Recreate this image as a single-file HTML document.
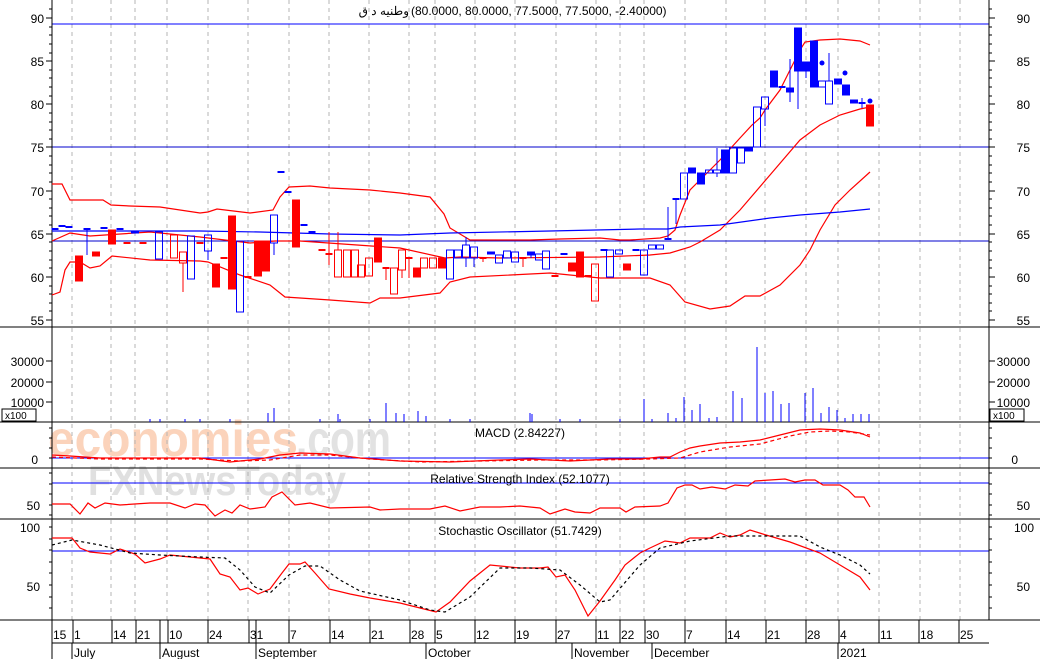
<!DOCTYPE html>
<html><head><meta charset="utf-8"><style>
html,body{margin:0;padding:0;background:#fff;}
svg{display:block;font-family:"Liberation Sans","Noto Sans CJK SC",sans-serif;}
line,rect{shape-rendering:crispEdges;}
</style></head><body>
<svg id="s" width="1040" height="659" viewBox="0 0 1040 659" xmlns="http://www.w3.org/2000/svg">
<rect width="1040" height="659" fill="#fff"/>
<g id="wm" font-weight="bold">
<text x="48" y="456" font-size="50" fill="#fbd3bb" textLength="250" lengthAdjust="spacingAndGlyphs">economies</text>
<text x="296" y="456" font-size="50" fill="#e2e2e2" textLength="95" lengthAdjust="spacingAndGlyphs">.com</text>
<text x="88" y="495" font-size="42" fill="#e0e0e0" textLength="258" lengthAdjust="spacingAndGlyphs">FXNewsToday</text>
</g>
<g id="g"></g>
<text x="409" y="15" font-size="12" text-anchor="end" fill="#000">وطنيه د ق</text>
<text x="411" y="15" font-size="12" fill="#000" direction="ltr">(80.0000, 80.0000, 77.5000, 77.5000, -2.40000)</text>
<text x="520" y="437" font-size="12" text-anchor="middle">MACD (2.84227)</text>
<text x="520" y="483" font-size="12" text-anchor="middle">Relative Strength Index (52.1077)</text>
<text x="520" y="535" font-size="12" text-anchor="middle">Stochastic Oscillator (51.7429)</text>
</svg>
<script>
var g=document.getElementById('g'),h='';
function L(x1,y1,x2,y2,c,w,d){h+='<line x1="'+x1+'" y1="'+y1+'" x2="'+x2+'" y2="'+y2+'" stroke="'+c+'" stroke-width="'+(w||1)+'"'+(d?' stroke-dasharray="'+d+'"':'')+'/>';}
function P(a,c,d){var s='';for(var i=0;i<a.length;i+=2)s+=(i?'L':'M')+a[i]+' '+a[i+1];h+='<path d="'+s+'" fill="none" stroke="'+c+'" stroke-width="1.2"'+(d?' stroke-dasharray="'+d+'"':'')+'/>';}
function T(x,y,t,a){h+='<text x="'+x+'" y="'+y+'" font-size="12" text-anchor="'+(a||'start')+'">'+t+'</text>';}
var X0=52,X1=989;
var grid=[72,111,135,167,208,248,289,329,369,409,435,475,515,556,596,620,644,685,726,765,806,838,879,920,960];
grid.forEach(function(x){L(x,0,x,620,'#b4b4b4',1,'4 4');});
L(X0,24,X1,24,'#0000ff');L(X0,147,X1,147,'#0000cc');L(X0,241,X1,241,'#0000cc');L(X0,327,X1,327,'#0000ff');
L(X0,458,X1,458,'#0000ff');L(X0,483,X1,483,'#0000ff');L(X0,551,X1,551,'#0000ff');L(X0,620,X1,620,'#0000ff');
L(0,327,1040,327,'#000');L(0,422,1040,422,'#000');L(0,468,1040,468,'#000');L(0,519,1040,519,'#000');L(0,620,1040,620,'#000');
L(X0,0,X0,659,'#000');L(X1,0,X1,620,'#000');
for(var p=55;p<=91;p++){var y=Math.round(18+(90-p)*8.63);var big=p%5==0;L(X0-(big?6:3),y,X0,y,'#000');L(X1,y,X1+(big?6:3),y,'#000');if(big&&p<=90){T(44,y+5,p,'end');T(1030,y+5,p,'end');}}
[[361,'30000'],[382,'20000'],[402,'10000']].forEach(function(v){T(44,v[0]+5,v[1],'end');T(1030,v[0]+5,v[1],'end');L(X0-6,v[0],X0,v[0],'#000');L(X1,v[0],X1+6,v[0],'#000');});
h+='<rect x="2" y="409" width="34" height="12" fill="#fff" stroke="#000"/><text x="5" y="419" font-size="10">x100</text>';
h+='<rect x="990" y="409" width="34" height="12" fill="#fff" stroke="#000"/><text x="993" y="419" font-size="10">x100</text>';
T(38,464,'0','end');T(1018,464,'0','end');T(40,510,'50','end');T(1030,510,'50','end');
T(40,532,'100','end');T(1034,532,'100','end');T(40,591,'50','end');T(1030,591,'50','end');
for(var y=428;y<468;y+=10){L(X0-3,y,X0,y,'#000');L(X1,y,X1+3,y,'#000');}
for(var y=473;y<519;y+=10.5){var yy=Math.round(y);L(X0-3,yy,X0,yy,'#000');L(X1,yy,X1+3,yy,'#000');}
for(var y=527;y<620;y+=11.6){var yy=Math.round(y);L(X0-3,yy,X0,yy,'#000');L(X1,yy,X1+3,yy,'#000');}
L(X0,643,989,643,'#000');
var dl=[[52,'15'],[73,'1'],[112,'14'],[136,'21'],[168,'10'],[208,'24'],[249,'31'],[289,'7'],[330,'14'],[370,'21'],[410,'28'],[435,'5'],[475,'12'],[515,'19'],[556,'27'],[596,'11'],[620,'22'],[645,'30'],[685,'7'],[726,'14'],[766,'21'],[806,'28'],[839,'4'],[879,'11'],[919,'18'],[959,'25']];
dl.forEach(function(d){L(d[0],620,d[0],643,'#000');T(d[0]+1,639,d[1]);});
L(160,620,160,643,'#000');L(256,620,256,643,'#000');
[[72,'July'],[160,'August'],[256,'September'],[426,'October'],[572,'November'],[652,'December'],[838,'2021']].forEach(function(m){L(m[0],643,m[0],659,'#000');T(m[0]+2,657,m[1]);});
P([52,184,62,184,70,200,90,200,103,200,111,205,130,206,160,207,200,213,208,212,217,209,250,213,273,210,280,197,289,187,310,186,330,188,370,190,400,193,430,197,444,214,450,228,460,234,470,240,495,240,530,240,560,239,600,238,620,240,630,240,660,238,668,236,675,230,680,215,690,190,700,180,720,160,740,138,752,125,760,118,765,110,780,90,790,70,800,50,805,42,820,40,840,39,860,41,870,45],'#f00');
P([52,241,70,233,90,236,150,232,200,237,250,243,275,241,300,241,400,248,445,258,460,257,500,258,600,257,650,255,670,253,690,247,700,242,720,230,740,210,770,175,800,140,820,125,840,115,860,109,870,107],'#f00');
P([52,295,60,292,65,270,70,262,80,262,90,268,100,266,112,256,150,260,200,261,208,262,240,275,270,285,285,297,300,298,330,300,370,303,380,298,400,298,440,293,450,282,470,277,550,273,600,278,650,278,670,285,685,302,710,309,730,306,745,296,760,296,780,285,800,265,810,250,820,230,835,205,850,190,870,172],'#f00');
P([52,231,200,231,260,232,330,234,400,235,450,233,550,231,640,229,668,229,680,227,720,225,770,218,800,215,840,212,870,209],'#00f');
var R='#f00',B='#00f';
var c=[[55,229,229,0,0,B,1],[62,226,226,0,0,B,1],[69,227,227,0,0,B,1],[79,256,281,0,0,R,1],[87,229,230,229,255,B,1],[96,252,256,0,0,R,1],[104,228,228,0,0,B,1],[112,230,244,0,0,R,1],[120,229,229,0,0,B,1],[127,243,243,0,0,R,1],[135,231,233,0,0,B,1],[143,243,243,0,0,R,1],[159,232,259,0,0,B,0],[174,235,258,0,0,R,0],[183,252,263,0,292,R,0],[191,236,279,0,0,B,0],[200,243,243,0,0,R,1],[208,235,251,0,260,B,0],[216,264,287,0,0,R,1],[224,258,258,0,0,R,1],[232,216,289,0,0,R,1],[240,241,312,0,0,B,0],[248,277,277,0,0,R,1],[258,241,276,0,0,R,1],[266,241,271,0,0,R,1],[274,215,243,0,255,B,0],[281,172,172,0,0,B,1],[288,192,192,0,0,B,1],[296,200,247,0,0,R,1],[304,225,225,0,0,B,1],[312,232,232,0,0,B,1],[322,250,250,0,0,R,1],[329,254,254,232,265,R,1],[338,250,277,232,0,R,0],[347,250,277,0,0,R,0],[355,250,277,0,0,R,0],[361,265,277,0,0,R,0],[369,258,276,0,0,R,0],[378,238,262,0,0,R,1],[386,268,268,0,280,R,1],[394,268,294,0,0,R,0],[402,250,270,0,278,R,0],[409,258,258,0,278,R,1],[417,268,277,0,0,R,1],[424,258,268,0,0,R,0],[433,258,268,0,0,R,0],[442,258,268,0,0,R,1],[450,250,279,0,0,B,0],[458,250,258,0,0,B,0],[466,245,258,237,267,B,0],[474,247,258,0,267,B,0],[483,258,258,0,262,R,1],[491,252,254,0,0,B,1],[499,255,263,0,0,B,0],[507,251,258,0,0,B,0],[515,252,262,0,0,B,0],[523,258,258,0,267,R,1],[531,252,255,0,258,B,1],[539,254,260,0,0,B,0],[546,251,269,0,0,B,0],[555,276,276,0,0,R,1],[564,254,254,0,0,B,1],[572,263,271,0,0,R,1],[580,252,277,0,0,R,1],[588,276,276,0,0,R,1],[595,264,301,0,0,R,0],[604,250,250,0,0,B,1],[610,250,277,0,0,B,0],[619,250,254,0,0,B,0],[627,264,270,0,0,R,1],[636,250,250,0,0,B,1],[644,250,275,0,0,B,0],[652,245,249,0,0,B,0],[660,245,249,0,0,B,0],[668,239,239,207,240,B,1],[676,199,199,199,224,B,1],[684,173,199,0,0,B,0],[692,168,173,0,0,B,1],[701,173,184,0,0,B,1],[709,170,173,0,0,B,0],[717,170,173,148,177,B,0],[725,150,173,0,0,B,1],[733,148,173,0,0,B,0],[741,148,163,0,0,B,0],[749,148,151,0,0,B,1],[757,107,147,0,0,B,0],[765,97,109,0,126,B,0],[774,71,87,0,0,B,1],[782,87,87,0,0,B,1],[790,88,92,59,102,B,1],[798,28,71,0,109,B,1],[806,62,71,0,78,B,1],[814,41,87,0,0,B,1],[822,81,87,0,0,B,0],[829,81,104,53,0,B,0],[838,79,84,0,0,B,1],[846,85,95,0,0,B,1],[854,100,103,0,0,B,1],[862,103,103,98,108,B,1],[870,105,126,0,0,R,1]];
c.forEach(function(k){var x=k[0];if(k[3])L(x,k[3],x,k[1],k[5]);if(k[4])L(x,k[2],x,k[4],k[5]);
if(k[2]-k[1]<2){L(x-3.5,k[1],x+3.5,k[1],k[5],2);}else{h+='<rect x="'+(x-3.5)+'" y="'+k[1]+'" width="7" height="'+(k[2]-k[1])+'" fill="'+(k[6]?k[5]:'none')+'" stroke="'+k[5]+'"/>';}});
h+='<circle cx="822" cy="63" r="2.5" fill="#00f"/><circle cx="845" cy="73" r="2.5" fill="#00f"/><circle cx="870" cy="101" r="2.5" fill="#00f"/>';
[[268,413],[274,408],[338,414],[386,403],[396,413],[404,414],[418,411],[426,416],[530,413],[532,414],[644,399],[668,413],[676,418],[684,397],[692,410],[700,404],[709,418],[717,417],[733,391],[742,398],[757,347],[765,393],[773,391],[781,404],[789,403],[805,393],[813,388],[821,413],[829,407],[837,410],[845,418],[853,414],[861,414],[869,414],[150,419],[160,419],[185,419],[200,419],[230,419],[320,419],[340,419],[370,419],[450,419],[470,419],[560,419],[580,419],[620,419],[652,419]].forEach(function(v){L(v[0],v[1],v[0],422,'#00f');});
P([52,455,70,456,100,458,200,458,230,462,260,459,280,455,300,453,330,454,360,458,400,461,450,462,500,460,530,459,570,461,610,459,640,459,660,457,670,457,680,452,690,448,700,446,720,443,740,442,760,440,780,435,800,430,820,429,840,430,860,433,870,437],'#f00');
P([52,457,100,459,200,459,240,461,270,460,300,455,330,455,370,459,420,462,480,461,540,460,600,460,650,459,680,458,700,452,730,447,760,444,790,436,810,432,830,431,850,432,870,435],'#f00','4 3');
P([52,504,70,504,80,514,88,503,95,508,105,503,120,505,150,503,170,503,185,508,195,504,205,505,215,516,225,510,232,513,240,505,250,509,265,507,272,497,282,492,295,505,310,503,330,508,370,507,380,510,400,509,430,509,445,506,460,511,480,507,500,507,520,506,540,508,550,514,565,509,575,512,590,513,600,508,620,508,626,512,635,507,660,506,668,503,677,488,685,485,692,485,700,489,712,487,725,489,735,485,748,486,755,481,770,480,785,479,795,482,805,480,815,480,823,485,835,485,840,485,848,490,855,497,864,497,870,507],'#f00');
P([52,538,72,538,80,548,90,552,110,554,120,549,135,554,145,563,160,559,170,555,200,558,210,559,220,574,230,577,240,590,248,588,258,594,270,589,282,573,289,564,300,564,305,562,315,573,329,589,350,594,370,598,400,603,420,608,436,612,450,602,470,581,490,565,520,568,540,568,548,567,556,577,565,575,575,590,588,616,600,601,615,580,625,565,640,553,650,548,665,541,680,543,690,538,710,538,720,533,730,537,740,535,750,530,766,535,790,542,820,553,840,565,860,577,870,590],'#f00');
P([52,545,72,540,100,545,130,553,160,555,200,557,225,558,240,570,255,587,270,593,289,575,305,566,320,566,340,580,360,591,400,600,430,610,445,612,470,597,500,568,530,568,560,570,580,585,600,602,610,600,640,565,660,548,690,541,730,536,770,536,800,536,820,547,840,555,860,565,870,574],'#000','3 3');
g.innerHTML=h;
</script>
</body></html>
